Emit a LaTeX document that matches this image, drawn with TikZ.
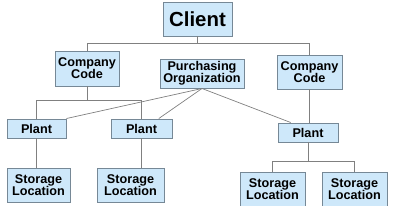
\documentclass[tikz,border=0pt]{standalone}
\usepackage{fontspec}
\setmainfont{Liberation Sans}
\usepackage{tikz}
\definecolor{boxfill}{RGB}{206,232,250}
\definecolor{boxline}{RGB}{118,136,150}
\definecolor{wire}{RGB}{128,128,128}

\begin{document}
\begin{tikzpicture}[x=0.025cm,y=-0.025cm,
 unit/.style={rectangle,draw=boxline,fill=boxfill,line width=0.7pt,inner sep=0pt,align=center,
  font=\bfseries\fontsize{9}{8.6}\selectfont},
 wh/.style 2 args={minimum width=#1*0.025cm,minimum height=#2*0.025cm},
 link/.style={draw=wire,line width=0.5pt}]
\useasboundingbox (0,0) rectangle (400,205);
\node[unit,wh={69}{34},font=\bfseries\fontsize{14.5}{15}\selectfont] (client) at (197.5,19) {Client};
\node[unit,wh={64}{35}] (cc1) at (87,68.5) {Company\\Code};
\node[unit,wh={84}{29}] (po) at (202,73.5) {Purchasing\\Organization};
\node[unit,wh={65}{34}] (cc2) at (309.5,72) {Company\\Code};
\foreach \n/\x/\y/\w in {plant1/36.5/128.5/59,plant2/141.5/128.5/61,plant3/308/132.5/60}{
 \node[unit,wh={\w}{19}] (\n) at (\x,\y) {Plant};}
\foreach \n/\x/\y/\w in {sl1/38.5/185/63,sl2/130.5/185/67,sl3/272.5/189.5/65,sl4/354.5/189.5/65}{
 \node[unit,wh={\w}{34}] (\n) at (\x,\y) {Storage\\Location};}
% client to company codes
\draw[link] (client.south) -- ++(0,7) -| (cc1.north);
\draw[link] (client.south) -- ++(0,7) -| (cc2.north);
% company code to plants
\draw[link] (cc1.south) -- ++(0,14) -| (plant1.north);
\draw[link] (cc1.south) -- ++(0,14) -| (plant2.north);
\draw[link] (cc2.south) -- (cc2.south |- plant3.north);
% purchasing organization
\draw[link] (po.south) -- (plant1.north east);
\draw[link] (po.south) -- (plant2.30);
\draw[link] (po.south) -- (plant3.150);
% plants to storage locations
\draw[link] (plant1.south) -- (plant1.south |- sl1.north);
\draw[link] (plant2.south) -- (plant2.south |- sl2.north);
\draw[link] (plant3.south) -- ++(0,19) -| (sl3.north);
\draw[link] (plant3.south) -- ++(0,19) -| (sl4.north);
\end{tikzpicture}
\end{document}
